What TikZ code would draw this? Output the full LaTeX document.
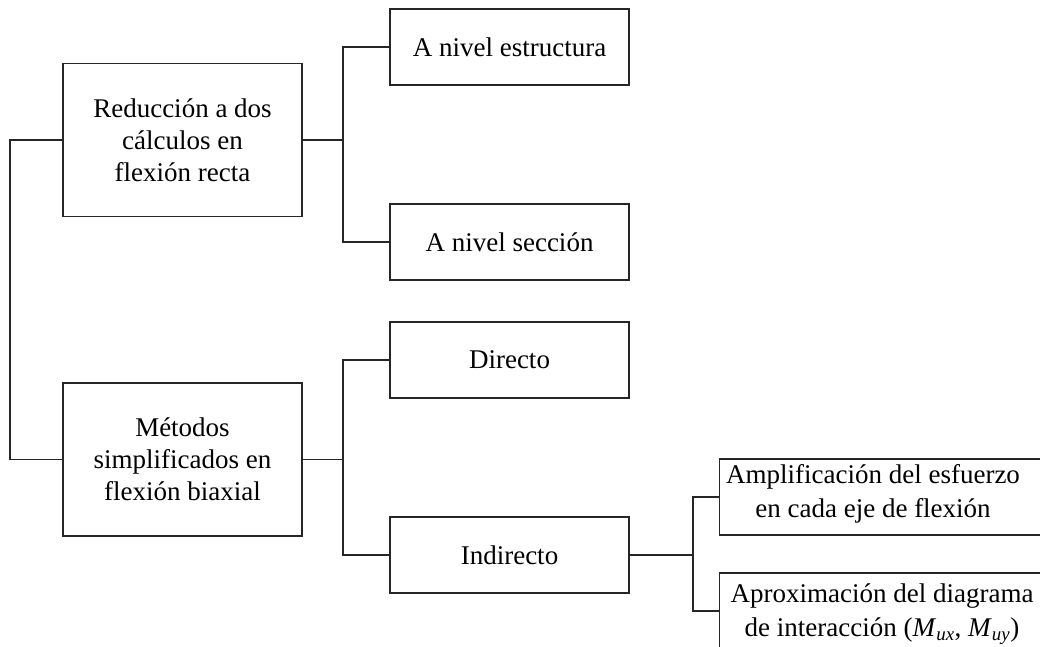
\documentclass[tikz,border=0pt]{standalone}
\usepackage{fontspec}
\setmainfont{Liberation Serif}
\begin{document}
\begin{tikzpicture}[x=1pt,y=-1pt,
  line width=1.2pt, draw=black!85,
  every node/.style={font=\fontsize{27}{32}\selectfont, text=black},
  box/.style={draw=black!85, line width=1.2pt, minimum width=239pt,
    minimum height=76pt, inner sep=0pt, align=center},
  bigbox/.style={box, minimum height=153pt},
  widebox/.style={box, minimum width=340pt, anchor=west},
  widetext/.style={align=center, font=\fontsize{27}{34}\selectfont},
  link/.style={draw=black!85, line width=1.2pt}]
\useasboundingbox (0,0) rectangle (1040,646);
\clip (0,0) rectangle (1040,646);

% main branches
\node[bigbox] (red) at (182.5,140) {Reducción a dos\\cálculos en\\flexión recta};
\node[bigbox] (met) at (182.5,459.5) {Métodos\\simplificados en\\flexión biaxial};

% second level
\node[box] (est) at (509.5,47) {A nivel estructura};
\node[box] (sec) at (509.5,242) {A nivel sección};
\node[box] (dir) at (509.5,360) {Directo};
\node[box] (ind) at (509.5,555) {Indirecto};

% third level (boxes run past the right edge)
\node[widebox] (ampbox) at (719,497) {};
\node[widetext] (amptext) at (873,494) {Amplificación del esfuerzo\\en cada eje de flexión};
\node[widebox] (apxbox) at (719,611) {};
\node[widetext] (apxtext) at (882,614) {Aproximación del diagrama\\de interacción (\textit{M}\textsubscript{\textit{ux}}, \textit{M}\textsubscript{\textit{uy}})};

% junction points
\coordinate (root) at (10,300);
\coordinate (j1) at (343,140);
\coordinate (j2) at (343,459.5);
\coordinate (j3) at (693,555);

% connectors
\draw[link] (red.west) -| (root) |- (met.west);
\draw[link] (red.east) -- (j1);
\draw[link] (est.west) -| (j1) |- (sec.west);
\draw[link] (met.east) -- (j2);
\draw[link] (dir.west) -| (j2) |- (ind.west);
\draw[link] (ind.east) -- (j3);
\draw[link] (ampbox.west) -| (j3) |- (apxbox.west);
\end{tikzpicture}
\end{document}
